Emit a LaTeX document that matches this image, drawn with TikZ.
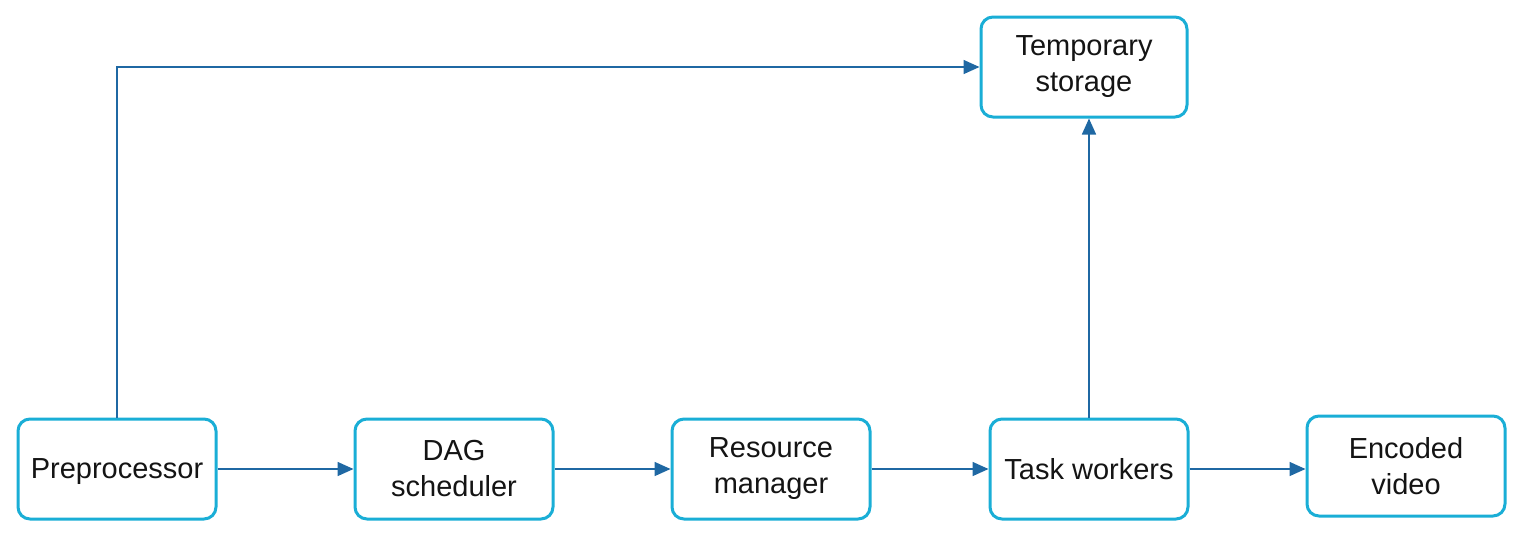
\documentclass[tikz,border=0pt]{standalone}
\usepackage{fontspec}
\setmainfont{Liberation Sans}
\usetikzlibrary{arrows.meta}
\definecolor{boxcyan}{RGB}{26,174,214}
\definecolor{flowblue}{RGB}{31,104,163}
\definecolor{inkgray}{RGB}{20,20,20}
\begin{document}
\begin{tikzpicture}[x=0.5pt,y=-0.5pt,
        stage/.style={draw=boxcyan,line width=1.5pt,rounded corners=6pt,fill=white,
            minimum width=99pt,minimum height=50pt,align=center,text=inkgray,
            font=\fontsize{14.5}{18}\selectfont},
        flow/.style={draw=flowblue,line width=0.8pt,-{Triangle[length=8pt,width=7pt]}}]
            \useasboundingbox (0,0) rectangle (1523,538);
            \node[stage,text depth=0pt] (pre) at (117,469) {Preprocessor};
            \node[stage] (dag) at (454,469) {DAG\\scheduler};
            \node[stage] (res) at (771,469) {Resource\\manager};
            \node[stage] (tw) at (1089,469) {Task workers};
            \node[stage] (enc) at (1406,466) {Encoded\\video};
            \node[stage,minimum width=103pt] (tmp) at (1084,67) {Temporary\\storage};
            \draw[flow] (pre) -- (dag);
            \draw[flow] (dag) -- (res);
            \draw[flow] (res) -- (tw);
            \draw[flow] (tw.east) -- (enc.west |- tw.east);
            \draw[flow] (tw.north) -- (tw.north |- tmp.south);
            \draw[flow] (pre.north) |- (tmp.west);
        \end{tikzpicture}
\end{document}
